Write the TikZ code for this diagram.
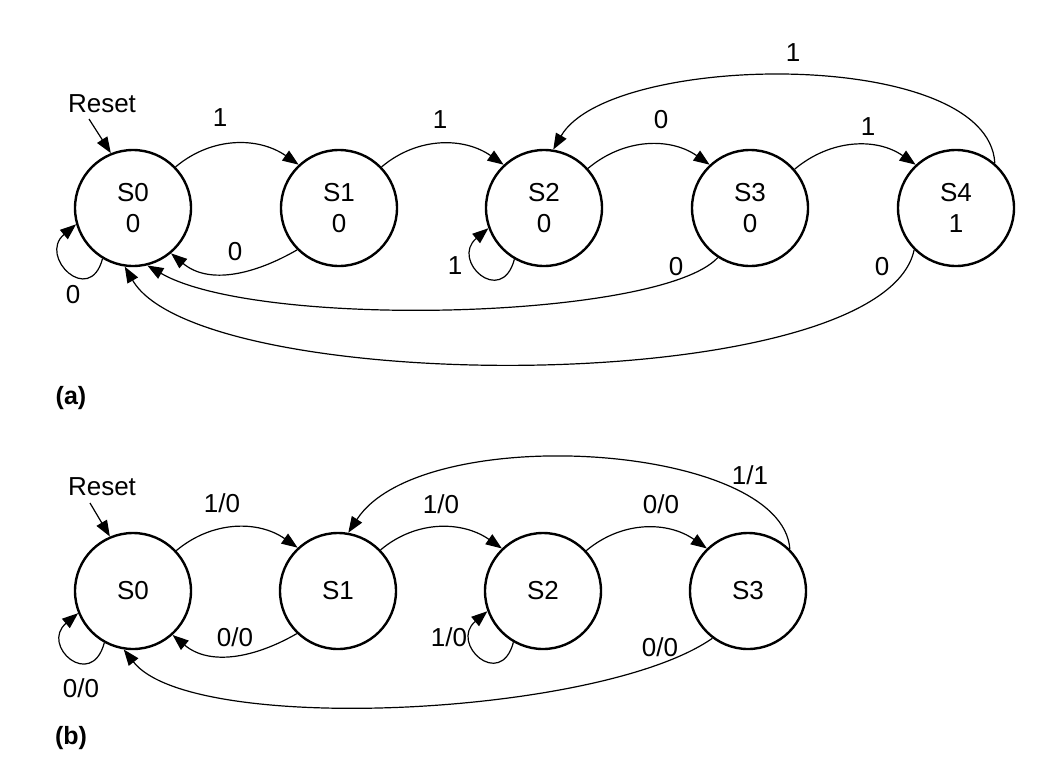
\documentclass[tikz,border=0pt]{standalone}
\usepackage{fontspec}
\setmainfont{Liberation Sans}
\usetikzlibrary{arrows.meta}
\begin{document}
\begin{tikzpicture}[x=1pt,y=1pt,
  state/.style={circle,draw,line width=2.4pt,minimum size=116pt,inner sep=0pt,align=center,font=\fontsize{26}{31}\selectfont},
  lab/.style={font=\fontsize{26}{30}\selectfont,inner sep=0pt},
  tag/.style={font=\bfseries\fontsize{25}{29}\selectfont,inner sep=0pt},
  tr/.style={line width=1.2pt,-{Triangle[length=16pt,width=12pt]}},
]
\useasboundingbox (0,0) rectangle (1058,-769);
\fill[white] (0,0) rectangle (1058,-769);

% ---------- (a) ----------
\node[state] (a0) at (133,-208) {S0\\0};
\node[state] (a1) at (339,-208) {S1\\0};
\node[state] (a2) at (544,-208) {S2\\0};
\node[state] (a3) at (750,-208) {S3\\0};
\node[state] (a4) at (956,-208) {S4\\1};

\node[lab] (ra) at (102,-104) {Reset};
\coordinate (ras) at (89,-119);
\draw[tr] (ras) -- (a0.112);

\draw[tr] (a0.44) to[out=40,in=145] (a1.133);
\draw[tr] (a1.-135) to[out=-150,in=-40] (a0.-50);
\draw[tr] (a0.-121) .. controls +(-105:50) and +(-140:50) .. (a0.-164);
\draw[tr] (a1.44) to[out=40,in=145] (a2.133);
\draw[tr] (a2.-120) .. controls +(-105:50) and +(-140:50) .. (a2.-160);
\draw[tr] (a2.42) to[out=40,in=145] (a3.133);
\draw[tr] (a3.41) to[out=40,in=145] (a4.133);
\draw[tr] (a4.49) .. controls +(93:117) and +(60:113) .. (a2.81);
\draw[tr] (a3.-123) .. controls +(-133:85) and +(-30:128) .. (a0.-76);
\draw[tr] (a4.-135) .. controls +(-102:153) and +(-60:151) .. (a0.-98);

\node[lab] (la1) at (220,-118) {1};
\node[lab] (la2) at (235,-252) {0};
\node[lab] (la3) at (73,-295) {0};
\node[lab] (la4) at (440,-120) {1};
\node[lab] (la5) at (455,-266) {1};
\node[lab] (la6) at (661,-120) {0};
\node[lab] (la7) at (868,-127) {1};
\node[lab] (la8) at (793,-53) {1};
\node[lab] (la9) at (676,-267) {0};
\node[lab] (la10) at (882,-267) {0};
\node[tag] (ta) at (71,-398) {(a)};

% ---------- (b) ----------
\node[state] (b0) at (133,-591) {S0};
\node[state] (b1) at (338,-591) {S1};
\node[state] (b2) at (543,-591) {S2};
\node[state] (b3) at (748,-591) {S3};

\node[lab] (rb) at (102,-487) {Reset};
\coordinate (rbs) at (90,-503);
\draw[tr] (rbs) -- (b0.113);

\draw[tr] (b0.43) to[out=40,in=145] (b1.133);
\draw[tr] (b1.-134) to[out=-150,in=-40] (b0.-48);
\draw[tr] (b0.-119) .. controls +(-105:50) and +(-140:50) .. (b0.-158);
\draw[tr] (b1.44) to[out=40,in=145] (b2.134);
\draw[tr] (b2.-120) .. controls +(-105:50) and +(-140:50) .. (b2.-160);
\draw[tr] (b2.43) to[out=40,in=145] (b3.134);
\draw[tr] (b3.45) .. controls +(94:107) and +(57:134) .. (b1.80);
\draw[tr] (b3.-127) .. controls +(-145:136) and +(-52:110) .. (b0.-99);

\node[lab] (lb1) at (222,-503) {1/0};
\node[lab] (lb2) at (235,-637) {0/0};
\node[lab] (lb3) at (81,-688) {0/0};
\node[lab] (lb4) at (441,-504) {1/0};
\node[lab] (lb5) at (449,-637) {1/0};
\node[lab] (lb6) at (661,-504) {0/0};
\node[lab] (lb7) at (750,-475) {1/1};
\node[lab] (lb8) at (660,-647) {0/0};
\node[tag] (tb) at (71,-738) {(b)};
\end{tikzpicture}
\end{document}
